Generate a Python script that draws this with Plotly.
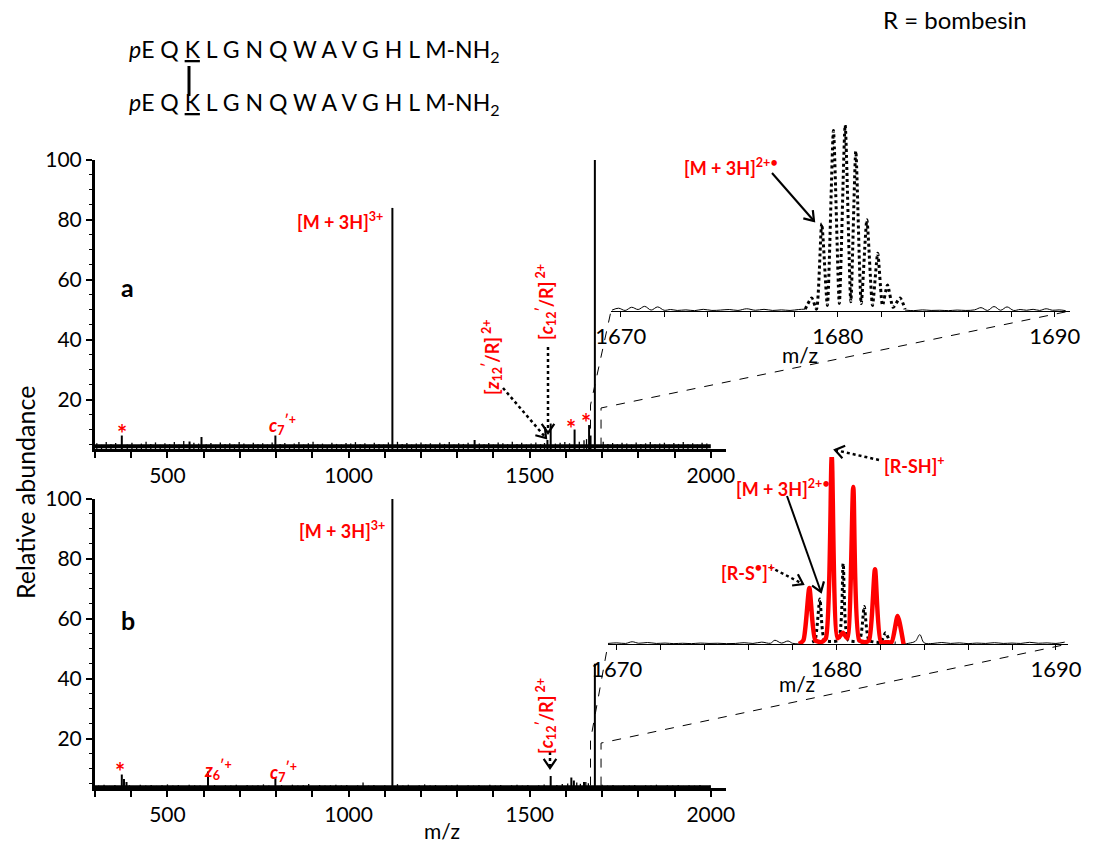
import math
import plotly.graph_objects as go

W, H = 1093, 851

# ---------------- data ----------------
# Panel a: ETD spectrum, stick peaks (m/z, relative abundance)
peaks_a_mz = [374, 561, 594, 798, 1121, 1348, 1549, 1558, 1624, 1664, 1668, 1680]
peaks_a_ab = [8.0, 6.0, 7.5, 8.0, 84.0, 6.5, 6.5, 12.0, 10.0, 11.5, 8.0, 100.0]

noise_a_mz = [305, 318, 331, 344, 357, 389, 402, 415, 428, 441,
              454, 467, 480, 493, 506, 519, 532, 545, 573, 586,
              607, 620, 633, 646, 659, 672, 685, 698, 711, 724,
              737, 750, 763, 776, 789, 811, 824, 837, 850, 863,
              876, 889, 902, 915, 928, 941, 954, 967, 980, 993,
              1006, 1019, 1032, 1045, 1058, 1071, 1084, 1097, 1110, 1135,
              1148, 1161, 1174, 1187, 1200, 1213, 1226, 1239, 1252, 1265,
              1278, 1291, 1304, 1317, 1330, 1361, 1374, 1387, 1400, 1413,
              1426, 1439, 1452, 1465, 1478, 1491, 1504, 1517, 1530, 1541,
              1571, 1584, 1597, 1610, 1637, 1650, 1657, 1703, 1716, 1729,
              1742, 1755, 1768, 1781, 1794, 1807, 1820, 1833, 1846, 1859,
              1872, 1885, 1898, 1911, 1924, 1937, 1950, 1963, 1976, 1989]
noise_a_ab = [5.4, 4.9, 5.8, 5.1, 5.5, 5.0, 5.6, 4.8, 5.3, 5.9,
              5.2, 5.7, 4.9, 5.4, 5.1, 5.8, 5.0, 6.2, 5.6, 5.3,
              5.1, 5.5, 4.9, 5.7, 5.2, 5.4, 5.0, 5.8, 5.3, 4.9,
              5.6, 5.1, 5.4, 5.0, 5.7, 5.2, 5.5, 4.9, 5.3, 5.8,
              5.0, 5.4, 5.9, 5.1, 5.3, 4.8, 5.6, 5.2, 5.0, 5.5,
              5.3, 5.8, 5.1, 5.4, 4.9, 5.6, 5.2, 5.0, 5.7, 5.9,
              5.2, 5.5, 5.0, 5.3, 5.7, 5.1, 5.4, 4.9, 5.6, 5.2,
              5.8, 5.0, 5.4, 5.2, 5.6, 5.3, 5.1, 5.5, 5.0, 5.7,
              5.4, 5.1, 5.9, 5.2, 5.6, 5.0, 5.3, 5.7, 5.1, 5.5,
              5.3, 5.6, 5.8, 5.4, 5.9, 6.4, 6.8, 5.9, 5.2, 5.5,
              5.1, 5.6, 5.3, 5.0, 5.7, 5.2, 5.4, 5.8, 5.1, 5.3,
              5.6, 5.0, 5.5, 5.2, 5.8, 5.1, 5.4, 5.0, 5.6, 5.3]
floor_a = 4.4

# Panel b
peaks_b_mz = [374, 380, 387, 612, 798, 1121, 1558, 1615, 1622, 1650, 1680]
peaks_b_ab = [8.0, 6.5, 5.5, 9.0, 7.0, 100.0, 7.5, 7.0, 6.0, 5.5, 45.0]

noise_b_mz = [310, 325, 340, 355, 395, 410, 425, 440, 455, 470,
              485, 500, 515, 530, 545, 560, 575, 590, 630, 645,
              660, 675, 690, 705, 720, 735, 750, 765, 780, 815,
              830, 845, 860, 875, 890, 905, 920, 935, 950, 965,
              980, 995, 1010, 1025, 1040, 1055, 1070, 1085, 1100, 1135,
              1150, 1165, 1180, 1195, 1210, 1225, 1240, 1255, 1270, 1285,
              1300, 1315, 1330, 1345, 1360, 1375, 1390, 1405, 1420, 1435,
              1450, 1465, 1480, 1495, 1510, 1525, 1540, 1575, 1590, 1605,
              1630, 1640, 1655, 1662, 1700, 1715, 1730, 1745, 1760, 1775,
              1790, 1805, 1820, 1835, 1850, 1865, 1880, 1895, 1910, 1925,
              1940, 1955, 1970, 1985, 1998]
noise_b_ab = [4.3, 4.6, 4.2, 4.5, 4.4, 4.2, 4.6, 4.3, 4.5, 4.2,
              4.4, 4.7, 4.3, 4.5, 4.2, 4.6, 4.4, 4.3, 4.5, 4.2,
              4.4, 4.3, 4.6, 4.2, 4.5, 4.3, 4.4, 4.7, 4.3, 4.5,
              4.2, 4.6, 4.3, 4.4, 4.8, 4.2, 4.5, 4.3, 4.4, 4.6,
              4.3, 4.5, 4.2, 4.4, 5.3, 4.3, 4.5, 4.2, 4.4, 4.8,
              4.3, 4.6, 4.2, 4.4, 4.7, 4.3, 4.5, 4.2, 4.4, 4.3,
              4.6, 4.2, 4.4, 4.3, 4.5, 4.2, 4.6, 4.3, 4.5, 4.2,
              4.4, 4.6, 4.3, 4.5, 4.2, 4.4, 4.7, 4.5, 4.8, 5.0,
              5.3, 4.9, 5.5, 5.1, 4.6, 4.3, 4.5, 4.2, 4.4, 4.3,
              4.5, 4.2, 4.4, 4.3, 4.6, 4.2, 4.4, 4.3, 4.5, 4.2,
              4.4, 4.3, 4.5, 4.2, 4.3]
floor_b = 3.9

# Inset a: [M+3H]2+. isotope envelope (dotted) and baseline (solid)
ins_a_prof_mz = [1678.5, 1678.8, 1679.02, 1679.26, 1679.52, 1679.8, 1680.07, 1680.34,
                 1680.6, 1680.83, 1681.08, 1681.34, 1681.6, 1681.84, 1682.06, 1682.29,
                 1682.55, 1682.87, 1683.1]
ins_a_prof_ab = [1, 7, 1, 47, 3, 97, 4, 100, 5, 86, 4, 49, 3, 31, 3, 14, 2, 7, 1]
ins_a_left_mz = [1669.6, 1669.9, 1670.2, 1670.5, 1670.8, 1671.1, 1671.4, 1671.7, 1672.0,
                 1672.3, 1672.6, 1673.0, 1673.4, 1673.8, 1674.2, 1674.6, 1675.0, 1675.4,
                 1675.8, 1676.2, 1676.6, 1677.0, 1677.4, 1677.8, 1678.2, 1678.5]
ins_a_left_ab = [0.5, 1.5, 0.3, 2.0, 0.8, 2.5, 0.5, 2.2, 0.4, 0.8, 0.3, 0.6, 0.2, 0.9,
                 0.3, 0.5, 0.8, 0.3, 1.2, 0.4, 0.9, 0.3, 0.6, 0.3, 0.8, 1.0]
ins_a_right_mz = [1683.1, 1683.5, 1683.9, 1684.3, 1684.7, 1685.1, 1685.5, 1685.9, 1686.3,
                  1686.6, 1686.9, 1687.2, 1687.5, 1687.8, 1688.1, 1688.4, 1688.7, 1689.0,
                  1689.3, 1689.6, 1689.9, 1690.2, 1690.5]
ins_a_right_ab = [0.5, 0.2, 0.6, 0.3, 0.4, 0.2, 0.5, 0.3, 0.6, 1.8, 0.3, 2.4, 0.4, 2.2,
                  0.3, 0.8, 0.4, 0.9, 0.3, 1.2, 0.4, 0.6, 0.2]

# Inset b: R-SH / R-S. envelope (red) and [M+3H]2+. (dotted)
ins_b_red_mz = [1678.3, 1678.5, 1678.77, 1679.04, 1679.3, 1679.52, 1679.79, 1680.06, 1680.3,
                1680.5, 1680.77, 1681.04, 1681.3, 1681.49, 1681.76, 1682.03, 1682.3,
                1682.52, 1682.79, 1683.06]
ins_b_red_ab = [0, 2, 30, 2, 1, 3, 100, 3, 6, 3, 84, 2, 1, 2, 40, 1, 1, 1, 15, 0]
ins_b_dot_mz = [1678.9, 1679.03, 1679.25, 1679.47, 1680.08, 1680.31, 1680.54, 1681.05,
                1681.27, 1681.49, 1682.02, 1682.24, 1682.46, 1682.7]
ins_b_dot_ab = [1, 2, 24, 2, 2, 43, 2, 2, 20, 2, 1, 6, 1, 0.5]
ins_b_left_mz = [1669.6, 1670.0, 1670.4, 1670.7, 1671.0, 1671.4, 1671.8, 1672.2, 1672.6,
                 1673.0, 1673.4, 1673.8, 1674.2, 1674.6, 1675.0, 1675.4, 1675.8, 1676.2,
                 1676.6, 1677.0, 1677.2, 1677.5, 1677.8, 1678.0, 1678.3]
ins_b_left_ab = [0.3, 0.6, 0.3, 1.2, 0.4, 0.8, 0.3, 0.5, 0.2, 0.4, 0.2, 0.5, 0.3, 0.4,
                 0.2, 0.3, 0.7, 0.3, 1.0, 0.4, 2.0, 0.5, 1.6, 0.4, 0.0]
ins_b_right_mz = [1683.06, 1683.3, 1683.6, 1683.8, 1684.0, 1684.4, 1684.8, 1685.2, 1685.6,
                  1686.0, 1686.4, 1686.8, 1687.2, 1687.6, 1688.0, 1688.4, 1688.8, 1689.2,
                  1689.6, 1690.0, 1690.4]
ins_b_right_ab = [0.0, 0.4, 1.5, 5.0, 0.6, 0.3, 0.8, 0.3, 0.6, 0.2, 0.5, 0.3, 0.7, 0.3,
                  0.5, 0.3, 0.9, 0.4, 0.6, 0.3, 1.0]

main_x_ticks = list(range(300, 2001, 100))
main_x_labels = ["500", "1000", "1500", "2000"]
y_ticks = [20, 40, 60, 80, 100]
ins_x_ticks = list(range(1670, 1691, 2))
ins_x_labels = ["1670", "1680", "1690"]

# ---------------- geometry (pixels) ----------------
MAIN_XD = (95, 726)
MAIN_XR = [300, 2042]
A_YD = (449, 160)
B_YD = (788, 499)
YR = [3.5, 100]
IA_XD = (611, 1070)
IA_XR = [1669.55, 1690.7]
IA_YD = (311, 125)
IB_XD = (608, 1068)
IB_XR = [1669.6, 1690.55]
IB_YD = (644, 457)
IYR = [0, 100]

FONT = "Lato"
RED = "#ff0000"


def X(p):
    return p / W


def Y(p):
    return 1 - p / H


def xpx(v, rng, dom):
    return dom[0] + (v - rng[0]) / (rng[1] - rng[0]) * (dom[1] - dom[0])


def ypx(v, rng, dom):
    return dom[0] - (v - rng[0]) / (rng[1] - rng[0]) * (dom[0] - dom[1])


def sticks(mz, ab, base):
    xs, ys = [], []
    for m, a in zip(mz, ab):
        xs += [m, m, None]
        ys += [base, a, None]
    return xs, ys


fig = go.Figure()

# main panels
for (pmz, pab, nmz, nab, flo, fw, xa, ya) in [
        (peaks_a_mz, peaks_a_ab, noise_a_mz, noise_a_ab, floor_a, 4, "x", "y"),
        (peaks_b_mz, peaks_b_ab, noise_b_mz, noise_b_ab, floor_b, 3, "x2", "y2")]:
    fig.add_trace(go.Scatter(x=[300, 2000], y=[flo, flo], mode="lines",
                             line=dict(color="black", width=fw), xaxis=xa, yaxis=ya,
                             hoverinfo="skip"))
    sx, sy = sticks(nmz, nab, YR[0])
    fig.add_trace(go.Scatter(x=sx, y=sy, mode="lines", line=dict(color="black", width=1.3),
                             xaxis=xa, yaxis=ya, hoverinfo="skip"))
    sx, sy = sticks(pmz, pab, YR[0])
    fig.add_trace(go.Scatter(x=sx, y=sy, mode="lines", line=dict(color="black", width=2),
                             xaxis=xa, yaxis=ya))

# inset a
for mz, ab in [(ins_a_left_mz, ins_a_left_ab), (ins_a_right_mz, ins_a_right_ab)]:
    fig.add_trace(go.Scatter(x=mz, y=ab, mode="lines", line=dict(color="black", width=1, shape="spline"),
                             xaxis="x3", yaxis="y3", hoverinfo="skip"))
fig.add_trace(go.Scatter(x=ins_a_prof_mz, y=ins_a_prof_ab, mode="lines",
                         line=dict(color="black", width=3, dash="dot", shape="spline", smoothing=0.6),
                         xaxis="x3", yaxis="y3"))
# inset b
for mz, ab in [(ins_b_left_mz, ins_b_left_ab), (ins_b_right_mz, ins_b_right_ab)]:
    fig.add_trace(go.Scatter(x=mz, y=ab, mode="lines", line=dict(color="black", width=1, shape="spline"),
                             xaxis="x4", yaxis="y4", hoverinfo="skip"))
fig.add_trace(go.Scatter(x=ins_b_dot_mz, y=ins_b_dot_ab, mode="lines",
                         line=dict(color="black", width=3, dash="dot", shape="spline", smoothing=0.6),
                         xaxis="x4", yaxis="y4"))
fig.add_trace(go.Scatter(x=ins_b_red_mz, y=ins_b_red_ab, mode="lines",
                         line=dict(color=RED, width=4.5, shape="spline", smoothing=0.6),
                         xaxis="x4", yaxis="y4"))

tickfont = dict(family=FONT, size=21, color="black")


def main_x(anchor):
    return dict(domain=[X(MAIN_XD[0]), X(MAIN_XD[1])], range=MAIN_XR, anchor=anchor,
                automargin=False,
                showline=True, linecolor="black", linewidth=2.5, ticks="outside",
                ticklen=6, tickwidth=1.5, tickcolor="black", tickvals=main_x_ticks,
                ticktext=[str(v) if str(v) in main_x_labels else "" for v in main_x_ticks],
                showgrid=False, zeroline=False, tickfont=tickfont)


def main_y(dom, anchor):
    return dict(domain=[Y(dom[0]), Y(dom[1])], range=YR, anchor=anchor,
                automargin=False,
                showline=True, linecolor="black", linewidth=3, ticks="outside",
                ticklen=6, tickwidth=1.5, tickcolor="black", tickvals=y_ticks,
                minor=dict(tickvals=[v for v in range(5, 100, 5) if v % 20], ticks="outside",
                           ticklen=3, tickcolor="black", tickwidth=1),
                showgrid=False, zeroline=False, tickfont=tickfont)


def ins_x(dom, rng, anchor):
    return dict(domain=[X(dom[0]), X(dom[1])], range=rng, anchor=anchor,
                automargin=False,
                showline=True, linecolor="black", linewidth=1.3, ticks="outside",
                ticklen=5, tickwidth=1, tickcolor="black", tickvals=ins_x_ticks,
                ticktext=[str(v) if str(v) in ins_x_labels else "" for v in ins_x_ticks],
                showgrid=False, zeroline=False, tickfont=dict(family=FONT, size=22, color="black"))


def ins_y(dom, anchor):
    return dict(domain=[Y(dom[0]), Y(dom[1])], range=IYR, anchor=anchor, visible=False,
                automargin=False)


fig.update_layout(
    width=W, height=H, autosize=False, margin=dict(l=0, r=0, t=0, b=0, pad=0),
    paper_bgcolor="white", plot_bgcolor="rgba(0,0,0,0)", showlegend=False,
    xaxis=main_x("y"), yaxis=main_y(A_YD, "x"),
    xaxis2=main_x("y2"), yaxis2=main_y(B_YD, "x2"),
    xaxis3=ins_x(IA_XD, IA_XR, "y3"), yaxis3=ins_y(IA_YD, "x3"),
    xaxis4=ins_x(IB_XD, IB_XR, "y4"), yaxis4=ins_y(IB_YD, "x4"),
)

shapes = []
ann = []


def text(x, y, t, size=18, color=RED, bold=True, xanchor="center", angle=0, family=FONT):
    ann.append(dict(x=X(x), y=Y(y), xref="paper", yref="paper", text=("<b>%s</b>" % t) if bold else t,
                    showarrow=False, xanchor=xanchor, yanchor="middle", textangle=angle,
                    borderpad=0, font=dict(family=family, size=size, color=color)))


def arrow(x0, y0, x1, y1, dash="dot", width=2.5, head=11, ang=35):
    shapes.append(dict(type="line", xref="paper", yref="paper", x0=X(x0), y0=Y(y0), x1=X(x1), y1=Y(y1),
                       line=dict(color="black", width=width, dash=dash)))
    th = math.atan2(y1 - y0, x1 - x0)
    pts = []
    for s in (1, -1):
        a = th + math.pi + s * math.radians(ang)
        pts.append((x1 + head * math.cos(a), y1 + head * math.sin(a)))
    path = "M %f %f L %f %f L %f %f" % (X(pts[0][0]), Y(pts[0][1]), X(x1), Y(y1), X(pts[1][0]), Y(pts[1][1]))
    shapes.append(dict(type="path", xref="paper", yref="paper", path=path,
                       line=dict(color="black", width=2.2)))


def dashed(points):
    path = "M " + " L ".join("%f %f" % (X(a), Y(b)) for a, b in points)
    shapes.append(dict(type="path", xref="paper", yref="paper", path=path,
                       line=dict(color="black", width=1, dash="dash")))


# zoom connectors (main m/z window -> inset axis)
for ydom, ixd, iyd, ixr, lh, rh in [(A_YD, IA_XD, IA_YD, IA_XR, 18.2, 17.2),
                                     (B_YD, IB_XD, IB_YD, IB_XR, 19.5, 18.5)]:
    xl = xpx(1668, MAIN_XR, MAIN_XD)
    xr = xpx(1697, MAIN_XR, MAIN_XD)
    yb = ypx(YR[0] + 0.8, YR, ydom)
    dashed([(xl, yb), (xl, ypx(lh, YR, ydom)), (ixd[0], iyd[0])])
    dashed([(xr, yb), (xr, ypx(rh, YR, ydom)), (ixd[1], iyd[0])])

# peptide sequence
seq = "<i>p</i>E Q <u>K</u> L G N Q W A V G H L M-NH<sub>2</sub>"
text(128, 50, seq, size=23, color="black", bold=False, xanchor="left")
text(128, 103, seq, size=23, color="black", bold=False, xanchor="left")
shapes.append(dict(type="line", xref="paper", yref="paper", x0=X(189), x1=X(189), y0=Y(66), y1=Y(96),
                   line=dict(color="black", width=3)))
text(955, 20, "R = bombesin", size=24, color="black", bold=False)
text(25, 493, "Relative abundance", size=25, color="black", bold=False, angle=-90)
text(442, 830, "m/z", size=21, color="black", bold=False)
text(800, 354, "m/z", size=21, color="black", bold=False)
text(797, 683, "m/z", size=21, color="black", bold=False)

# panel a labels
text(127, 287, "a", size=25, color="black")
text(384, 221, "[M + 3H]<sup>3+</sup>", xanchor="right")
text(122, 433, "*", size=24)
text(571, 428, "*", size=24)
text(586, 422, "*", size=24)
text(282, 425, "<i>c</i><sub>7</sub><sup>\u2032+</sup>")
text(492, 357, "[<i>z</i><sub>12</sub><sup>\u2032</sup>/R]<sup> 2+</sup>", angle=-90)
text(546, 302, "[<i>c</i><sub>12</sub><sup>\u2032</sup>/R]<sup> 2+</sup>", angle=-90)
arrow(503, 388, 546, 438)
arrow(548, 347, 548, 433)

# panel b labels
text(128, 620, "b", size=25, color="black")
text(386, 530, "[M + 3H]<sup>3+</sup>", xanchor="right")
text(120, 771, "*", size=24)
text(218, 770, "<i>z</i><sub>6</sub><sup>\u2032+</sup>")
text(283, 772, "<i>c</i><sub>7</sub><sup>\u2032+</sup>")
text(546, 716, "[<i>c</i><sub>12</sub><sup>\u2032</sup>/R]<sup> 2+</sup>", angle=-90)
arrow(550, 752, 550, 768)

# inset a labels
text(731, 167, "[M + 3H]<sup>2+\u2022</sup>")
arrow(772, 173, 814, 221, dash="solid", width=2)

# inset b labels
text(914, 465, "[R-SH]<sup>+</sup>")
arrow(879, 460, 835, 450)
text(783, 488, "[M + 3H]<sup>2+\u2022</sup>")
arrow(787, 496, 821, 592, dash="solid", width=2)
text(748, 572, "[R-S<sup>\u2022</sup>]<sup>+</sup>")
arrow(770, 567, 803, 584)

fig.update_layout(shapes=shapes, annotations=ann)
fig.write_html("out.html")
